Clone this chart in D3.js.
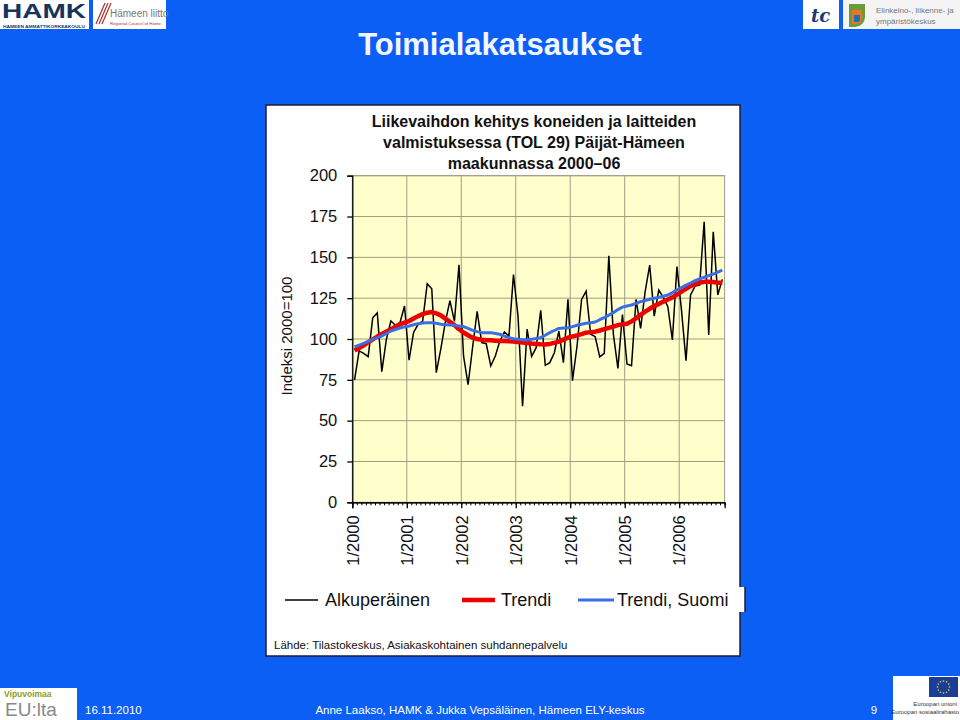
<!DOCTYPE html>
<html>
<head>
<meta charset="utf-8">
<script src="https://cdn.jsdelivr.net/npm/d3@7"></script>
<style>
  body { margin: 0; background: #0b5ff5; }
  svg { display: block; }
</style>
</head>
<body>
<svg width="960" height="720"></svg>
<script>
// monthly index 1/2000 .. 10/2006
var alkuperainen = [75, 92.7, 91.2, 89.2, 113, 116, 80, 99.8, 111, 108.4, 110, 120.2,
    87, 104, 109, 111, 133.9, 130.8, 79.4, 94, 110.5, 123.5, 110.8, 145.5,
    89.6, 72, 95, 117, 97.8, 97.1, 83.5, 89.6, 98.8, 104.3, 101.8, 139.5,
    114, 58.8, 106, 89.4, 94.7, 117.6, 83.9, 85.5, 91.6, 104.9, 85.5, 124.3,
    74.5, 95.7, 124.2, 129.3, 102.9, 101.4, 89, 91.2, 151, 103, 82, 115,
    84.7, 83.7, 124.3, 106.5, 129, 145.3, 114, 130, 125.5, 119.8, 99.4, 144.3,
    117.8, 86.7, 127, 132.4, 133, 171.8, 102.4, 165.7, 127, 136.5];

var trendi = [93, 94.5, 96, 98, 99.8, 101.5, 103, 104.5, 106, 107.5, 109, 110,
    111, 112.5, 114, 115.2, 116.1, 116.5, 115.7, 114.5, 112.5, 110.5, 108.5, 106,
    104, 102.3, 100.8, 100, 99.6, 99.3, 99.2, 99, 98.8, 98.8, 98.6, 98.5,
    98.2, 97.9, 97.6, 97.2, 97, 96.8, 96.7, 97, 97.6, 98.4, 99.6, 100.8,
    101.6, 102.2, 103, 103.9, 104.2, 104.5, 105.2, 106, 106.8, 107.6, 108.5, 109,
    109.3, 110.8, 112.7, 114.8, 116.7, 118.5, 120.2, 121.5, 122.9, 124.2, 125.5, 127.2,
    129, 130.7, 132.4, 133.6, 134.5, 135, 135.1, 134.9, 134.5, 134.5];

var trendiSuomi = [95.1, 96.3, 97.3, 98.6, 99.8, 100.8, 101.8, 103.4, 104.9, 105.8, 106.7, 107.4,
    108, 108.7, 109.4, 109.8, 110, 109.9, 109.6, 109, 108.8, 108.6, 108.4, 108,
    107.6, 106.5, 105.3, 104.5, 103.9, 103.9, 103.9, 103.4, 102.9, 101.8, 100.8, 100.2,
    99.8, 99.6, 99.4, 99.9, 100.3, 100.8, 102.3, 103.9, 105.2, 106.5, 106.7, 106.9,
    107.6, 108.4, 109, 109.6, 110, 110.4, 111.8, 113.1, 114.6, 116.1, 118, 119.5,
    120.2, 120.8, 121.8, 122.9, 123.6, 124.3, 124.9, 125.5, 126.2, 126.9, 128.4, 130,
    131.5, 133, 134.3, 135.7, 136.8, 137.8, 138.8, 139.8, 141, 142.2];

var yTicks = [0, 25, 50, 75, 100, 125, 150, 175, 200];
var yearLabels = ["1/2000", "1/2001", "1/2002", "1/2003", "1/2004", "1/2005", "1/2006"];
var titleLines = ["Liikevaihdon kehitys koneiden ja laitteiden",
    "valmistuksessa (TOL 29) Päijät-Hämeen",
    "maakunnassa 2000\u201306"];
var legendItems = ["Alkuperäinen", "Trendi", "Trendi, Suomi"];

var svg = d3.select("svg");

// slide background
svg.append("rect").attr("width", 960).attr("height", 720).attr("fill", "#0b5ff5");

// ---- header logos ----
var logoL = svg.append("g");
logoL.append("rect").attr("x", 0).attr("y", 0).attr("width", 89).attr("height", 29).attr("fill", "#fff");
logoL.append("text").attr("x", 2).attr("y", 18).text("HAMK")
    .attr("font-family", "Arial, Liberation Sans").attr("font-weight", "bold")
    .attr("font-size", 20).attr("textLength", 84).attr("lengthAdjust", "spacingAndGlyphs")
    .attr("fill", "#17355c");
logoL.append("text").attr("x", 3).attr("y", 27.5).text("HÄMEEN AMMATTIKORKEAKOULU")
    .attr("font-family", "Liberation Sans").attr("font-weight", "bold")
    .attr("font-size", 4.4).attr("textLength", 82).attr("lengthAdjust", "spacingAndGlyphs")
    .attr("fill", "#17355c");
logoL.append("rect").attr("x", 93).attr("y", 0).attr("width", 73).attr("height", 29).attr("fill", "#fff");
[0, 3, 6].forEach(function (d) {
    logoL.append("line").attr("x1", 96 + d).attr("y1", 24).attr("x2", 105 + d).attr("y2", 3)
        .attr("stroke", "#b0302a").attr("stroke-width", 1.2);
});
logoL.append("text").attr("x", 110).attr("y", 17).text("Hämeen liitto")
    .attr("font-family", "Liberation Sans").attr("font-size", 10).attr("fill", "#777");
logoL.append("text").attr("x", 110).attr("y", 25).text("Regional Council of Häme")
    .attr("font-family", "Liberation Sans").attr("font-size", 4.4).attr("fill", "#b0302a");

var logoR = svg.append("g");
logoR.append("rect").attr("x", 803).attr("y", 0).attr("width", 36).attr("height", 29).attr("fill", "#fff");
logoR.append("text").attr("x", 811).attr("y", 22).text("tc")
    .attr("font-family", "DejaVu Serif").attr("font-style", "italic").attr("font-weight", "bold")
    .attr("font-size", 18).attr("fill", "#1b3c78");
logoR.append("rect").attr("x", 843).attr("y", 0).attr("width", 117).attr("height", 29).attr("fill", "#f4f4f4");
logoR.append("path").attr("d", "M849,4 h16 v13 a10,10 0 0 1 -10,10 h-6 z").attr("fill", "#6a9a3a");
logoR.append("path").attr("d", "M852,10 h10 v8 a6,6 0 0 1 -6,6 h-4 z").attr("fill", "#e87722");
logoR.append("path").attr("d", "M854,15 h6 v4 a3,3 0 0 1 -3,3 h-3 z").attr("fill", "#1f6fb5");
logoR.append("text").attr("x", 876).attr("y", 13).text("Elinkeino-, liikenne- ja")
    .attr("font-family", "Liberation Sans").attr("font-size", 8).attr("fill", "#777");
logoR.append("text").attr("x", 876).attr("y", 24).text("ympäristökeskus")
    .attr("font-family", "Liberation Sans").attr("font-size", 8).attr("fill", "#777");

// slide title
svg.append("text").attr("x", 500).attr("y", 55).attr("text-anchor", "middle")
    .text("Toimialakatsaukset")
    .attr("font-family", "Arial, Liberation Sans").attr("font-weight", "bold")
    .attr("font-size", 31).attr("fill", "#f2f6ff");

// ---- chart box ----
svg.append("rect").attr("x", 266).attr("y", 105).attr("width", 474).attr("height", 551)
    .attr("fill", "#fff").attr("stroke", "#1c1c30").attr("stroke-width", 1.5);

var g = svg.append("g").attr("font-family", "Arial, Liberation Sans");

g.selectAll(".ctitle").data(titleLines).enter().append("text")
    .attr("class", "ctitle")
    .attr("x", 534).attr("y", function (d, i) { return 127 + i * 21; })
    .attr("text-anchor", "middle").attr("font-weight", "bold").attr("font-size", 16)
    .attr("fill", "#111").text(function (d) { return d; });

var n = alkuperainen.length;
var x = d3.scaleLinear().domain([0, n]).range([352.3, 724.6]);
var y = d3.scaleLinear().domain([0, 200]).range([502.3, 175.7]);

// plot area
g.append("rect").attr("x", x(0)).attr("y", y(200))
    .attr("width", x(n) - x(0)).attr("height", y(0) - y(200))
    .attr("fill", "#ffffcc").attr("stroke", "#999").attr("stroke-width", 1);

// grid
g.selectAll(".hgrid").data(yTicks.slice(1)).enter().append("line")
    .attr("x1", x(0)).attr("x2", x(n))
    .attr("y1", function (d) { return y(d); }).attr("y2", function (d) { return y(d); })
    .attr("stroke", "#a09f80").attr("stroke-width", 1);
g.selectAll(".vgrid").data(d3.range(12, n, 12)).enter().append("line")
    .attr("y1", y(0)).attr("y2", y(200))
    .attr("x1", function (d) { return x(d); }).attr("x2", function (d) { return x(d); })
    .attr("stroke", "#a09f80").attr("stroke-width", 1);

// y axis
var yAxis = g.append("g").attr("transform", "translate(" + x(0) + ",0)")
    .call(d3.axisLeft(y).tickValues(yTicks).tickSize(5).tickPadding(10));
yAxis.selectAll("text").attr("font-size", 16.5).attr("fill", "#111").attr("font-family", "Arial, Liberation Sans");
yAxis.selectAll("line, path").attr("stroke", "#000").attr("stroke-width", 1.3);

// x axis: monthly minor ticks, yearly major ticks
var xMinor = g.append("g").attr("transform", "translate(0," + y(0) + ")")
    .call(d3.axisBottom(x).tickValues(d3.range(0, n + 1)).tickSize(3).tickFormat(""));
xMinor.selectAll("line, path").attr("stroke", "#000").attr("stroke-width", 1);
var xMajor = g.append("g").attr("transform", "translate(0," + y(0) + ")")
    .call(d3.axisBottom(x).tickValues(d3.range(0, n, 12)).tickSize(6)
        .tickFormat(function (d) { return yearLabels[d / 12]; }));
xMajor.select(".domain").attr("stroke", "#000").attr("stroke-width", 1.3);
xMajor.selectAll("line").attr("stroke", "#000").attr("stroke-width", 1.3);
xMajor.selectAll("text")
    .attr("font-size", 16.5).attr("fill", "#111").attr("font-family", "Arial, Liberation Sans")
    .attr("text-anchor", "end").attr("transform", "rotate(-90)")
    .attr("x", -13).attr("y", 0).attr("dy", "0.35em");

// y axis title
g.append("text").attr("transform", "translate(292,336) rotate(-90)")
    .attr("text-anchor", "middle").attr("font-size", 15).attr("fill", "#111")
    .text("Indeksi 2000=100");

// series
function lineFor(vals) {
    return d3.line()
        .x(function (d, i) { return x(i + 0.5); })
        .y(function (d) { return y(d); })(vals);
}
g.append("path").attr("d", lineFor(alkuperainen)).attr("fill", "none")
    .attr("stroke", "#000").attr("stroke-width", 1.5).attr("stroke-linejoin", "miter");
g.append("path").attr("d", lineFor(trendi)).attr("fill", "none")
    .attr("stroke", "#ee0000").attr("stroke-width", 4.5).attr("stroke-linejoin", "round");
g.append("path").attr("d", lineFor(trendiSuomi)).attr("fill", "none")
    .attr("stroke", "#3a6ee8").attr("stroke-width", 3).attr("stroke-linejoin", "round");

// legend (its box pokes slightly out of the chart frame on the right)
svg.append("rect").attr("x", 739).attr("y", 587).attr("width", 6).attr("height", 25).attr("fill", "#fff");
svg.append("line").attr("x1", 745).attr("x2", 745).attr("y1", 587).attr("y2", 612)
    .attr("stroke", "#1c1c30").attr("stroke-width", 1.5);
var legendStyle = [
    { x1: 285, x2: 318, tx: 325, color: "#000", w: 1.5 },
    { x1: 462, x2: 495, tx: 501, color: "#ee0000", w: 4.5 },
    { x1: 578, x2: 614, tx: 617, color: "#3a6ee8", w: 3 }
];
var leg = g.selectAll(".leg").data(legendItems).enter().append("g").attr("class", "leg");
leg.append("line")
    .attr("x1", function (d, i) { return legendStyle[i].x1; })
    .attr("x2", function (d, i) { return legendStyle[i].x2; })
    .attr("y1", 600).attr("y2", 600)
    .attr("stroke", function (d, i) { return legendStyle[i].color; })
    .attr("stroke-width", function (d, i) { return legendStyle[i].w; });
leg.append("text")
    .attr("x", function (d, i) { return legendStyle[i].tx; })
    .attr("y", 606).attr("font-size", 18).attr("fill", "#111")
    .text(function (d) { return d; });

g.append("text").attr("x", 274).attr("y", 649).attr("font-size", 11.5).attr("fill", "#111")
    .text("Lähde: Tilastokeskus, Asiakaskohtainen suhdannepalvelu");

// ---- footer ----
var foot = svg.append("g");
foot.append("rect").attr("x", 0).attr("y", 688).attr("width", 77).attr("height", 32).attr("fill", "#fff");
foot.append("text").attr("x", 4).attr("y", 697).text("Vipuvoimaa")
    .attr("font-family", "Liberation Sans").attr("font-weight", "bold")
    .attr("font-size", 8.5).attr("fill", "#8aa020");
foot.append("text").attr("x", 5).attr("y", 716).text("EU:lta")
    .attr("font-family", "Liberation Sans Narrow, Liberation Sans").attr("font-size", 19).attr("fill", "#888");
foot.append("rect").attr("x", 893).attr("y", 676).attr("width", 67).attr("height", 44).attr("fill", "#fff");
foot.append("rect").attr("x", 929).attr("y", 677).attr("width", 29).attr("height", 20).attr("fill", "#1a3d9a");
d3.range(12).forEach(function (k) {
    var a = k * Math.PI / 6;
    foot.append("circle").attr("cx", 943.5 + 6 * Math.cos(a)).attr("cy", 687 + 6 * Math.sin(a))
        .attr("r", 0.8).attr("fill", "#ffdd00");
});
foot.append("text").attr("x", 957).attr("y", 706).attr("text-anchor", "end").text("Euroopan unioni")
    .attr("font-family", "Liberation Sans Narrow, Liberation Sans").attr("font-size", 6).attr("fill", "#333");
foot.append("text").attr("x", 959).attr("y", 714).attr("text-anchor", "end").text("Euroopan sosiaalirahasto")
    .attr("font-family", "Liberation Sans Narrow, Liberation Sans").attr("font-size", 6).attr("fill", "#333");

var footText = [
    { x: 85, anchor: "start", t: "16.11.2010" },
    { x: 480, anchor: "middle", t: "Anne Laakso, HAMK & Jukka Vepsäläinen, Hämeen ELY-keskus" },
    { x: 874, anchor: "middle", t: "9" }
];
foot.selectAll(".ft").data(footText).enter().append("text")
    .attr("x", function (d) { return d.x; }).attr("y", 714)
    .attr("text-anchor", function (d) { return d.anchor; })
    .attr("font-family", "Liberation Sans Narrow, Liberation Sans").attr("font-size", 11.5)
    .attr("fill", "#fff").text(function (d) { return d.t; });
</script>
</body>
</html>
